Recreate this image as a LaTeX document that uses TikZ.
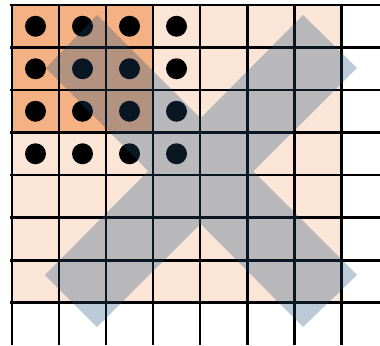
\documentclass[tikz,border=0pt]{standalone}
\usepackage{tikz}
\usepackage{xcolor}
\definecolor{cellorange}{HTML}{F4B183}
\definecolor{cellpeach}{HTML}{FBE5D6}
\definecolor{crossblue}{HTML}{1F4E79}

\begin{document}
\begin{tikzpicture}[gridline/.style={black, line width=1.7pt},
                    dot/.style={fill=black},
                    crossband/.style={fill=crossblue, fill opacity=0.3}]
  \useasboundingbox (-0.24,0.10) rectangle (7.36,-6.80);
  %% cell size (cells are a bit wider than tall)
  \def\cw{0.94}
  \def\ch{0.85}
  %% ── Cell fills ─────────────────────────────────────────────
  \fill[cellpeach]  (0,0) rectangle (7*\cw,-7*\ch);
  \fill[cellorange] (0,0) rectangle (3*\cw,-3*\ch);
  %% ── Dots: 4 x 4 in the top-left corner ─────────────────────
  \foreach \i in {0,...,3}{
    \foreach \j in {0,...,3}{
      \fill[dot] ({(\i+0.5)*\cw},{-(\j+0.5)*\ch}) circle (0.21);
    }
  }
  %% ── Grid lines (run off the right and bottom edges) ────────
  \foreach \k in {0,...,7}{
    \draw[gridline] (\k*\cw,0) -- (\k*\cw,-6.80);
    \draw[gridline] (-0.03,-\k*\ch) -- (7.36,-\k*\ch);
  }
  %% ── Translucent cross on top (one path, overlap filled once)
  \fill[crossband]
    (1.70,-0.20) -- (6.90,-5.40) -- (5.82,-6.44) -- (0.68,-1.26) -- cycle
    (5.82,-0.20) -- (6.90,-1.26) -- (1.70,-6.44) -- (0.66,-5.40) -- cycle;
\end{tikzpicture}
\end{document}
